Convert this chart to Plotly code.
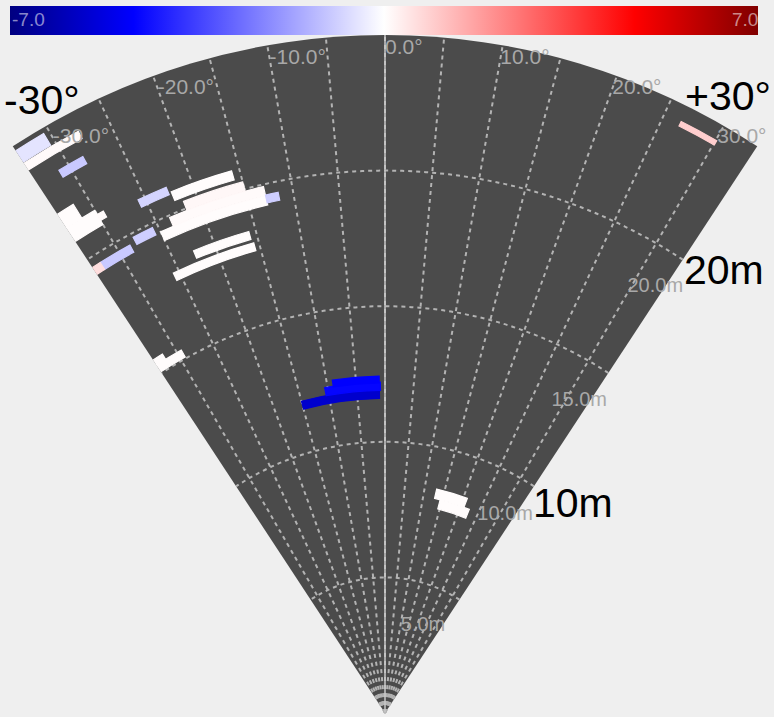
import plotly.graph_objects as go

# ---------------- data ----------------
# Detections: range centre (m), range depth (m), start / end azimuth (deg), value
det_range = [24.55, 24.10, 23.20, 21.70, 21.10, 21.10, 19.50, 19.50, 19.70, 20.85,
             20.60, 19.40, 19.75, 20.10, 19.45, 18.30, 17.85, 15.20, 15.45,
             24.30, 8.30, 7.95, 11.75, 12.05, 12.30]
det_depth = [0.50, 0.30, 0.30, 0.60, 0.60, 0.25, 0.30, 0.30, 0.30, 0.30,
             0.35, 0.35, 0.35, 0.35, 0.30, 0.30, 0.30, 0.30, 0.25,
             0.18, 0.35, 0.35, 0.30, 0.30, 0.25]
det_az0 = [-33.3, -33.3, -31.0, -33.3, -33.3, -30.0, -32.3, -33.3, -27.9, -25.7,
           -22.3, -25.0, -23.5, -21.5, -13.0, -22.5, -25.7, -33.3, -33.3,
           26.6, 13.0, 14.5, -15.0, -10.5, -9.0]
det_az1 = [-30.5, -27.8, -28.5, -31.5, -30.0, -29.3, -28.6, -32.3, -25.6, -22.6,
           -15.8, -13.0, -13.0, -15.0, -11.6, -15.8, -15.6, -29.3, -31.8,
           30.1, 21.0, 22.5, -1.0, -0.8, -1.0]
det_value = [-0.5, 0.1, -1.0, 0.05, 0.05, 0.1, -1.0, 0.6, -0.9, -0.8,
             0.05, 0.05, 0.1, 0.15, -0.9, 0.05, 0.05, 0.05, 0.05,
             0.9, 0.05, 0.05, -5.6, -4.6, -4.7]

ang_grid = [-30, -25, -20, -15, -10, -5, 0, 5, 10, 15, 20, 25, 30]
ang_labels = [-30, -20, -10, 0, 10, 20, 30]
range_grid = [5, 10, 15, 20]
range_labels = ["5.0m", "10.0m", "15.0m", "20.0m"]
max_range = 25
cmin, cmax = -7.0, 7.0
big_labels = ["-30°", "+30°", "20m", "10m"]

# ---------------- layout helpers ----------------
W, H = 774, 717
# label placement (polar coords) for the range tick labels
rlab_r = [3.5, 8.55, 13.55, 18.6]
rlab_t = [23.6, 31.2, 31.9, 32.4]
alab_r = 24.5

def px(x):
    return x / W

def py(y):
    return 1 - y / H

FONT = "Liberation Sans, Arial"
fig = go.Figure()

# angular tick labels (drawn under detections)
fig.add_trace(go.Scatterpolar(
    r=[alab_r] * len(ang_labels), theta=ang_labels,
    text=[f"{v:.1f}°" for v in ang_labels],
    mode="text", textposition="middle right",
    textfont=dict(color="#a8a8a8", size=21, family=FONT),
    cliponaxis=False, hoverinfo="skip", showlegend=False))

# range tick labels
fig.add_trace(go.Scatterpolar(
    r=rlab_r, theta=rlab_t, text=range_labels,
    mode="text", textposition="middle center",
    textfont=dict(color="#a8a8a8", size=20, family=FONT),
    cliponaxis=False, hoverinfo="skip", showlegend=False))

# 0 degree boresight line
fig.add_trace(go.Scatterpolar(
    r=[0, max_range], theta=[0, 0], mode="lines",
    line=dict(color="#c9c9c9", width=1.5),
    hoverinfo="skip", showlegend=False))

# detections
fig.add_trace(go.Barpolar(
    r=det_depth,
    base=[rc - d / 2 for rc, d in zip(det_range, det_depth)],
    theta=[(a + b) / 2 for a, b in zip(det_az0, det_az1)],
    width=[b - a for a, b in zip(det_az0, det_az1)],
    marker=dict(color=det_value, coloraxis="coloraxis",
                line=dict(width=1.2, color=det_value, coloraxis="coloraxis")),
    showlegend=False))

grid_style = dict(gridcolor="#b3b3b3", griddash="4px,4px", gridwidth=1.5,
                  layer="below traces", showline=False, ticks="",
                  showticklabels=False)

big_font = dict(size=41, color="black", family=FONT)

fig.update_layout(
    width=W, height=H,
    margin=dict(l=0, r=0, t=0, b=0, autoexpand=False),
    paper_bgcolor="#efefef",
    showlegend=False,
    polar=dict(
        domain=dict(x=[px(12.6), px(757.4)], y=[py(713), py(35)]),
        sector=[56.7, 123.3],
        bgcolor="#4b4b4b",
        bargap=0,
        radialaxis=dict(range=[0, max_range], tickvals=range_grid, **grid_style),
        angularaxis=dict(rotation=90, direction="clockwise", tickvals=ang_grid,
                         **grid_style),
    ),
    coloraxis=dict(
        cmin=cmin, cmax=cmax,
        colorscale=[[0, "#000080"], [0.165, "#0000ff"], [0.5, "#ffffff"],
                    [0.835, "#ff0000"], [1, "#800000"]],
        colorbar=dict(orientation="h", thickness=29, thicknessmode="pixels",
                      len=748, lenmode="pixels", x=px(384), xanchor="center",
                      y=py(6), yanchor="top", showticklabels=False, ticks="",
                      outlinewidth=0, xpad=0, ypad=0),
    ),
    annotations=[
        dict(text=f"{cmin:.1f}", x=px(10), y=py(19), xanchor="left", yanchor="middle",
             showarrow=False, font=dict(size=19, color="rgba(255,255,255,0.55)", family=FONT)),
        dict(text=f"{cmax:.1f}", x=px(760), y=py(19), xanchor="right", yanchor="middle",
             showarrow=False, font=dict(size=19, color="rgba(255,255,255,0.55)", family=FONT)),
        dict(text=big_labels[0], x=px(2), y=py(100), xanchor="left", yanchor="middle",
             showarrow=False, font=big_font),
        dict(text=big_labels[1], x=px(683), y=py(96), xanchor="left", yanchor="middle",
             showarrow=False, font=big_font),
        dict(text=big_labels[2], x=px(682), y=py(270), xanchor="left", yanchor="middle",
             showarrow=False, font=big_font),
        dict(text=big_labels[3], x=px(531), y=py(503), xanchor="left", yanchor="middle",
             showarrow=False, font=big_font),
    ],
)

fig.write_html("out.html")
